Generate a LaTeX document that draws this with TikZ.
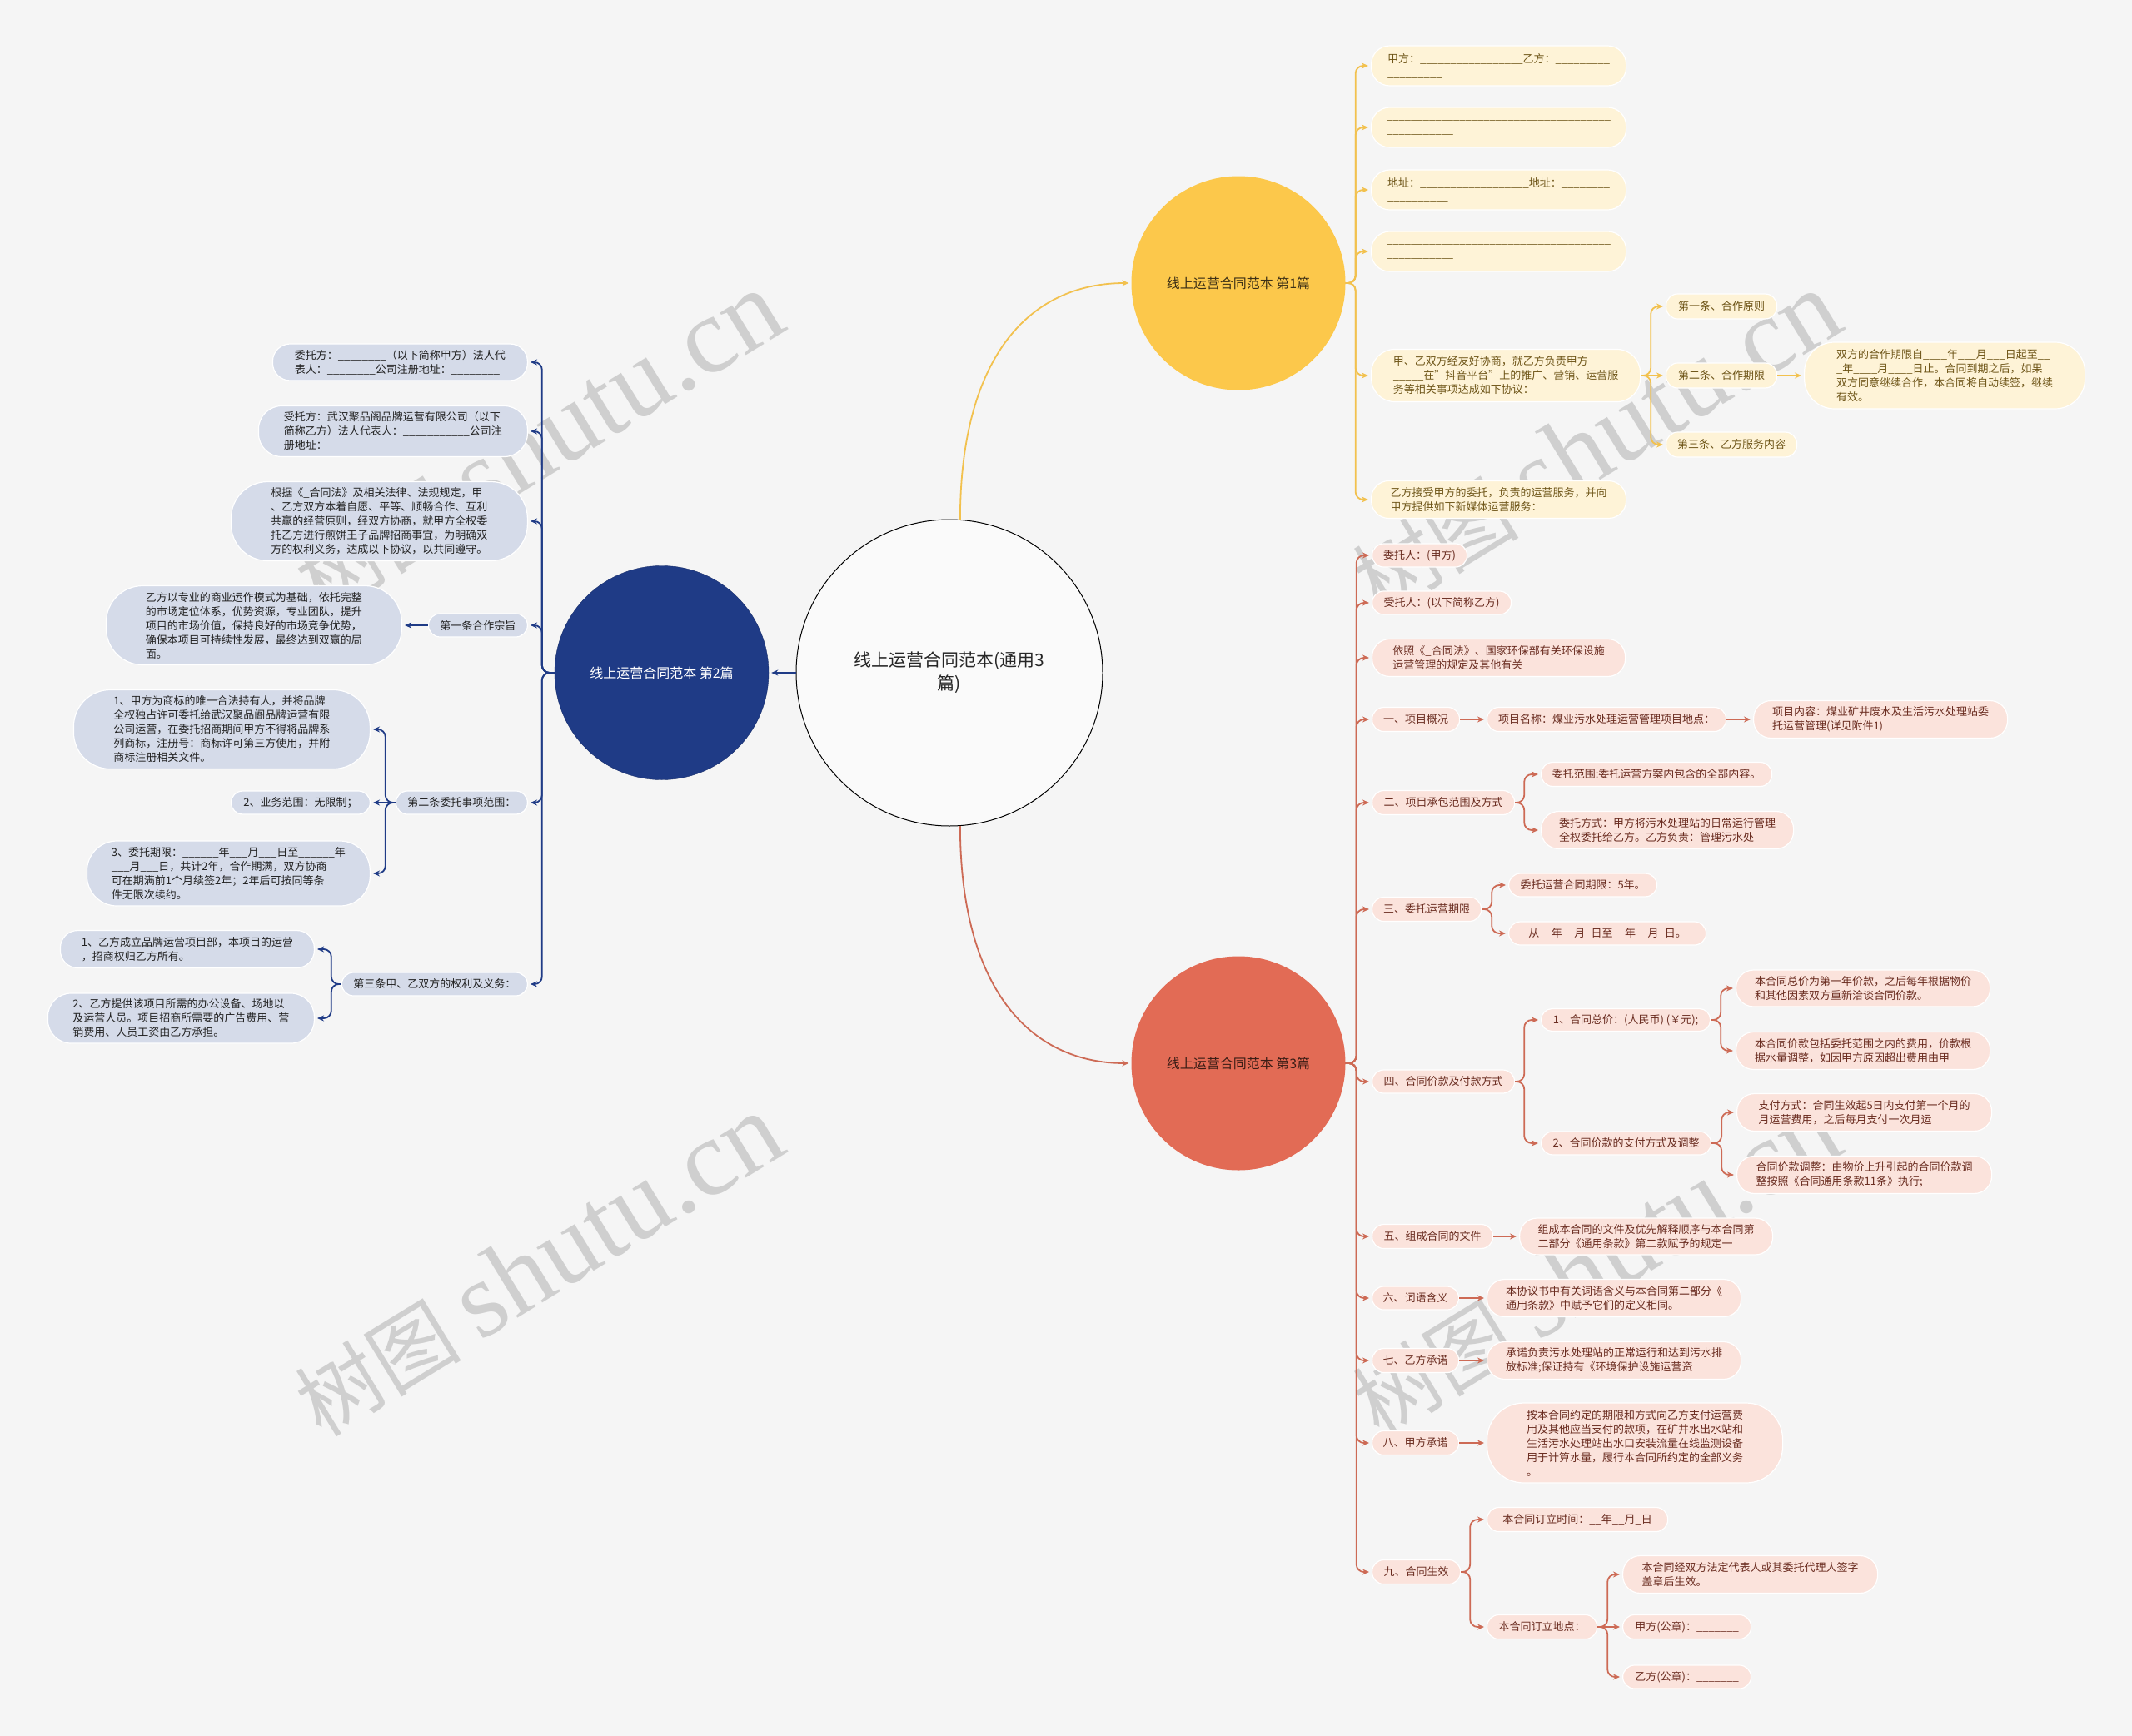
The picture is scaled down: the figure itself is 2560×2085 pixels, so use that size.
\documentclass[tikz,border=0pt]{standalone}
\usepackage{fontspec}
\setmainfont{Noto Sans CJK SC}
\newfontfamily\wmserif{Liberation Serif}
\usetikzlibrary{arrows.meta}
\ExplSyntaxOn
\NewDocumentCommand\us{m}{\prg_replicate:nn{#1}{\textunderscore}}
\ExplSyntaxOff
\definecolor{bg}{HTML}{F5F5F5}
\definecolor{ycirc}{HTML}{FCC84B}
\definecolor{yfill}{HTML}{FEF3D7}
\definecolor{yline}{HTML}{F2C14E}
\definecolor{ytext}{HTML}{6E5518}
\definecolor{ytitle}{HTML}{3D3016}
\definecolor{rcirc}{HTML}{E26B55}
\definecolor{rfill}{HTML}{FBE3DC}
\definecolor{rline}{HTML}{CD6A55}
\definecolor{rtext}{HTML}{6A2C20}
\definecolor{rtitle}{HTML}{3B1D16}
\definecolor{bcirc}{HTML}{1F3B86}
\definecolor{bfill}{HTML}{D5DBE9}
\definecolor{bline}{HTML}{1F3B86}
\definecolor{btext}{HTML}{222222}
\definecolor{wmcol}{HTML}{CFCFCF}
\tikzset{
  nbox/.style={align=left, inner sep=0pt, font=\fontsize{13}{17}\selectfont, draw=white, line width=1.2pt},
  ybox/.style={nbox, fill=yfill, text=ytext, anchor=west},
  rbox/.style={nbox, fill=rfill, text=rtext, anchor=west},
  bbox/.style={nbox, fill=bfill, text=btext, anchor=east},
  sz/.style n args={3}{minimum width=#1pt, minimum height=#2pt, rounded corners=#3pt},
  circ/.style={circle, inner sep=0pt, align=center, minimum size=257pt, font=\fontsize{16}{20}\selectfont},
  conn/.style={line width=1.8pt, rounded corners=9pt, -{Stealth[length=8pt,width=7pt]}, shorten >=3pt},
  yconn/.style={conn, draw=yline},
  rconn/.style={conn, draw=rline},
  bconn/.style={conn, draw=bline},
  wm/.style={rotate=31.5, text=wmcol, inner sep=0pt}
}
\begin{document}
\begin{tikzpicture}[x=1pt,y=-1pt]
\fill[bg] (0,0) rectangle (2560,2085);
\useasboundingbox (0,0) rectangle (2560,2085);

% ---------- watermarks (behind the diagram) ----------
\node[wm] (wm1) at (646,532) {\fontsize{100}{100}\selectfont 树图 {\wmserif\fontsize{130}{130}\selectfont shutu.cn}};
\node[wm] (wm2) at (646,1520) {\fontsize{100}{100}\selectfont 树图 {\wmserif\fontsize{130}{130}\selectfont shutu.cn}};
\node[wm] (wm3) at (1916,532) {\fontsize{100}{100}\selectfont 树图 {\wmserif\fontsize{130}{130}\selectfont shutu.cn}};
\node[wm] (wm4) at (1916,1520) {\fontsize{100}{100}\selectfont 树图 {\wmserif\fontsize{130}{130}\selectfont shutu.cn}};

% central and main circles
\node[circle, draw=black, line width=1pt, fill=bg!50!white, minimum size=368pt, inner sep=0pt, align=center, font=\fontsize{21}{28}\selectfont, text=black!85] (root) at (1140,808) {线上运营合同范本(通用3\\篇)};
\node[circ, fill=bcirc, draw=bcirc!80!black, text=white] (Bc) at (794.5,808) {线上运营合同范本 第2篇};
\node[circ, fill=ycirc, text=ytitle] (Yc) at (1487,340) {线上运营合同范本 第1篇};
\node[circ, fill=rcirc, text=rtitle] (Rc) at (1487,1277) {线上运营合同范本 第3篇};

% ---------- yellow branch ----------
\node[ybox, sz={306}{48}{22}] (Y1) at (1646,79) {甲方：\us{17}乙方：\us{9}\\\us{9}};
\node[ybox, sz={306}{48}{22}] (Y2) at (1646,153) {\us{37}\\\us{11}};
\node[ybox, sz={306}{48}{22}] (Y3) at (1646,228) {地址：\us{18}地址：\us{8}\\\us{10}};
\node[ybox, sz={306}{48}{22}] (Y4) at (1646,302) {\us{37}\\\us{11}};
\node[ybox, sz={323}{63}{28}] (Y5) at (1646,451) {甲、乙双方经友好协商，就乙方负责甲方\us{4}\\\us{5}在"抖音平台"上的推广、营销、运营服\\务等相关事项达成如下协议：};
\node[ybox, sz={306}{45}{21}] (Y6) at (1646,600) {乙方接受甲方的委托，负责的运营服务，并向\\甲方提供如下新媒体运营服务：};
\node[ybox, sz={133}{30}{14}] (Y5a) at (2000,368) {第一条、合作原则};
\node[ybox, sz={133}{30}{14}] (Y5b) at (2000,451) {第二条、合作期限};
\node[ybox, sz={157}{30}{14}] (Y5c) at (2000,534) {第三条、乙方服务内容};
\node[ybox, sz={337}{80}{36}] (Y5b1) at (2166,451) {双方的合作期限自\us{4}年\us{3}月\us{3}日起至\us{2}\\\us{1}年\us{4}月\us{4}日止。合同到期之后，如果\\双方同意继续合作，本合同将自动续签，继续\\有效。};

\foreach \c in {Y1,Y2,Y3,Y4,Y5,Y6}
  \draw[yconn] (Yc.east) -- ++(12,0) |- (\c.west);
\draw[yconn] (Y5.east) -- ++(12,0) |- (Y5a.west);
\draw[yconn] (Y5.east) -- (Y5b.west);
\draw[yconn] (Y5.east) -- ++(12,0) |- (Y5c.west);
\draw[yconn] (Y5b.east) -- (Y5b1.west);

% ---------- red branch ----------
\node[rbox, sz={114}{28}{14}] (R1) at (1647,667) {委托人：(甲方)};
\node[rbox, sz={167}{28}{14}] (R2) at (1647,724) {受托人：(以下简称乙方)};
\node[rbox, sz={304}{45}{21}] (R3) at (1647,790) {依照《\_合同法》、国家环保部有关环保设施\\运营管理的规定及其他有关};
\node[rbox, sz={105}{29}{14}] (R4) at (1647,864) {一、项目概况};
\node[rbox, sz={287}{29}{14}] (R4a) at (1785,864) {项目名称：煤业污水处理运营管理项目地点：};
\node[rbox, sz={305}{45}{21}] (R4b) at (2105,864) {项目内容：煤业矿井废水及生活污水处理站委\\托运营管理(详见附件1)};
\node[rbox, sz={171}{29}{14}] (R5) at (1647,964) {二、项目承包范围及方式};
\node[rbox, sz={277}{29}{14}] (R5a) at (1850,930) {委托范围:委托运营方案内包含的全部内容。};
\node[rbox, sz={303}{45}{21}] (R5b) at (1850,997) {委托方式：甲方将污水处理站的日常运行管理\\全权委托给乙方。乙方负责：管理污水处};
\node[rbox, sz={131}{29}{14}] (R6) at (1647,1092) {三、委托运营期限};
\node[rbox, sz={178}{28}{14}] (R6a) at (1811,1063) {委托运营合同期限：5年。};
\node[rbox, sz={237}{28}{14}] (R6b) at (1811,1121) {从\us{2}年\us{2}月\us{1}日至\us{2}年\us{2}月\us{1}日。};
\node[rbox, sz={171}{28}{14}] (R7) at (1647,1299) {四、合同价款及付款方式};
\node[rbox, sz={203}{27}{13}] (R7a) at (1850,1225) {1、合同总价：(人民币) (￥元);};
\node[rbox, sz={305}{44}{21}] (R7a1) at (2084,1187) {本合同总价为第一年价款，之后每年根据物价\\和其他因素双方重新洽谈合同价款。};
\node[rbox, sz={305}{45}{21}] (R7a2) at (2084,1262) {本合同价款包括委托范围之内的费用，价款根\\据水量调整，如因甲方原因超出费用由甲};
\node[rbox, sz={204}{28}{14}] (R7b) at (1850,1373) {2、合同价款的支付方式及调整};
\node[rbox, sz={306}{45}{21}] (R7b1) at (2085,1336) {支付方式：合同生效起5日内支付第一个月的\\月运营费用，之后每月支付一次月运};
\node[rbox, sz={306}{45}{21}] (R7b2) at (2085,1411) {合同价款调整：由物价上升引起的合同价款调\\整按照《合同通用条款11条》执行;};
\node[rbox, sz={145}{29}{14}] (R8) at (1647,1485) {五、组成合同的文件};
\node[rbox, sz={304}{44}{21}] (R8a) at (1824,1485) {组成本合同的文件及优先解释顺序与本合同第\\二部分《通用条款》第二款赋予的规定一};
\node[rbox, sz={104}{28}{14}] (R9) at (1647,1559) {六、词语含义};
\node[rbox, sz={305}{45}{21}] (R9a) at (1785,1559) {本协议书中有关词语含义与本合同第二部分《\\通用条款》中赋予它们的定义相同。};
\node[rbox, sz={104}{29}{14}] (R10) at (1647,1634) {七、乙方承诺};
\node[rbox, sz={305}{45}{21}] (R10a) at (1785,1634) {承诺负责污水处理站的正常运行和达到污水排\\放标准;保证持有《环境保护设施运营资};
\node[rbox, sz={104}{29}{14}] (R11) at (1647,1733) {八、甲方承诺};
\node[rbox, sz={355}{96}{44}] (R11a) at (1785,1733) {按本合同约定的期限和方式向乙方支付运营费\\用及其他应当支付的款项，在矿井水出水站和\\生活污水处理站出水口安装流量在线监测设备\\用于计算水量，履行本合同所约定的全部义务\\。};
\node[rbox, sz={106}{29}{14}] (R12) at (1647,1888) {九、合同生效};
\node[rbox, sz={217}{29}{14}] (R12a) at (1785,1825) {本合同订立时间：\us{2}年\us{2}月\us{1}日};
\node[rbox, sz={132}{29}{14}] (R12b) at (1785,1954) {本合同订立地点：};
\node[rbox, sz={306}{45}{21}] (R12b1) at (1948,1891) {本合同经双方法定代表人或其委托代理人签字\\盖章后生效。};
\node[rbox, sz={154}{29}{14}] (R12b2) at (1948,1954) {甲方(公章)：\us{7}};
\node[rbox, sz={154}{28}{14}] (R12b3) at (1948,2014) {乙方(公章)：\us{7}};

\foreach \c in {R1,R2,R3,R4,R5,R6,R7,R8,R9,R10,R11,R12}
  \draw[rconn] (Rc.east) -- ++(13,0) |- (\c.west);
\draw[rconn] (R4.east) -- (R4a.west);
\draw[rconn] (R4a.east) -- (R4b.west);
\draw[rconn] (R5.east) -- ++(11,0) |- (R5a.west);
\draw[rconn] (R5.east) -- ++(11,0) |- (R5b.west);
\draw[rconn] (R6.east) -- ++(12,0) |- (R6a.west);
\draw[rconn] (R6.east) -- ++(12,0) |- (R6b.west);
\draw[rconn] (R7.east) -- ++(11,0) |- (R7a.west);
\draw[rconn] (R7.east) -- ++(11,0) |- (R7b.west);
\draw[rconn] (R7a.east) -- ++(12,0) |- (R7a1.west);
\draw[rconn] (R7a.east) -- ++(12,0) |- (R7a2.west);
\draw[rconn] (R7b.east) -- ++(12,0) |- (R7b1.west);
\draw[rconn] (R7b.east) -- ++(12,0) |- (R7b2.west);
\draw[rconn] (R8.east) -- (R8a.west);
\draw[rconn] (R9.east) -- (R9a.west);
\draw[rconn] (R10.east) -- (R10a.west);
\draw[rconn] (R11.east) -- (R11a.west);
\draw[rconn] (R12.east) -- ++(11,0) |- (R12a.west);
\draw[rconn] (R12.east) -- ++(11,0) |- (R12b.west);
\draw[rconn] (R12b.east) -- ++(12,0) |- (R12b1.west);
\draw[rconn] (R12b.east) -- (R12b2.west);
\draw[rconn] (R12b.east) -- ++(12,0) |- (R12b3.west);

% ---------- blue branch ----------
\node[bbox, sz={306}{44}{21}] (B1) at (634,435) {委托方：\us{8}（以下简称甲方）法人代\\表人：\us{8}公司注册地址：\us{8}};
\node[bbox, sz={323}{61}{28}] (B2) at (634,518) {受托方：武汉聚品阁品牌运营有限公司（以下\\简称乙方）法人代表人：\us{11}公司注\\册地址：\us{16}};
\node[bbox, sz={356}{95}{44}] (B3) at (634,626) {根据《\_合同法》及相关法律、法规规定，甲\\、乙方双方本着自愿、平等、顺畅合作、互利\\共赢的经营原则，经双方协商，就甲方全权委\\托乙方进行煎饼王子品牌招商事宜，为明确双\\方的权利义务，达成以下协议，以共同遵守。};
\node[bbox, sz={119}{28}{14}] (B4) at (634,751) {第一条合作宗旨};
\node[bbox, sz={355}{95}{44}] (B4a) at (483,751) {乙方以专业的商业运作模式为基础，依托完整\\的市场定位体系，优势资源，专业团队，提升\\项目的市场价值，保持良好的市场竞争优势，\\确保本项目可持续性发展，最终达到双赢的局\\面。};
\node[bbox, sz={158}{28}{14}] (B5) at (634,964) {第二条委托事项范围：};
\node[bbox, sz={356}{95}{44}] (B5a) at (445,876) {1、甲方为商标的唯一合法持有人，并将品牌\\全权独占许可委托给武汉聚品阁品牌运营有限\\公司运营，在委托招商期间甲方不得将品牌系\\列商标，注册号：商标许可第三方使用，并附\\商标注册相关文件。};
\node[bbox, sz={167}{28}{14}] (B5b) at (445,964) {2、业务范围：无限制；};
\node[bbox, sz={340}{78}{36}] (B5c) at (445,1049) {3、委托期限：\us{6}年\us{3}月\us{3}日至\us{6}年\\\us{3}月\us{3}日，共计2年，合作期满，双方协商\\可在期满前1个月续签2年；2年后可按同等条\\件无限次续约。};
\node[bbox, sz={223}{28}{14}] (B6) at (634,1182) {第三条甲、乙双方的权利及义务：};
\node[bbox, sz={305}{45}{21}] (B6a) at (378,1140) {1、乙方成立品牌运营项目部，本项目的运营\\，招商权归乙方所有。};
\node[bbox, sz={320}{60}{28}] (B6b) at (378,1223) {2、乙方提供该项目所需的办公设备、场地以\\及运营人员。项目招商所需要的广告费用、营\\销费用、人员工资由乙方承担。};

\foreach \c in {B1,B2,B3,B4,B5,B6}
  \draw[bconn] (Bc.west) -- ++(-15,0) |- (\c.east);
\draw[bconn] (B4.west) -- (B4a.east);
\draw[bconn] (B5.west) -- ++(-12,0) |- (B5a.east);
\draw[bconn] (B5.west) -- (B5b.east);
\draw[bconn] (B5.west) -- ++(-12,0) |- (B5c.east);
\draw[bconn] (B6.west) -- ++(-12,0) |- (B6a.east);
\draw[bconn] (B6.west) -- ++(-12,0) |- (B6b.east);

% ---------- root connectors ----------
\draw[bconn, line width=2pt] (root.west) -- (Bc.east);
\draw[yconn] (root.86) .. controls (1153,430) and (1235,340) .. (Yc.west);
\draw[rconn] (root.-86) .. controls (1153,1185) and (1235,1277) .. (Rc.west);
\end{tikzpicture}
\end{document}
